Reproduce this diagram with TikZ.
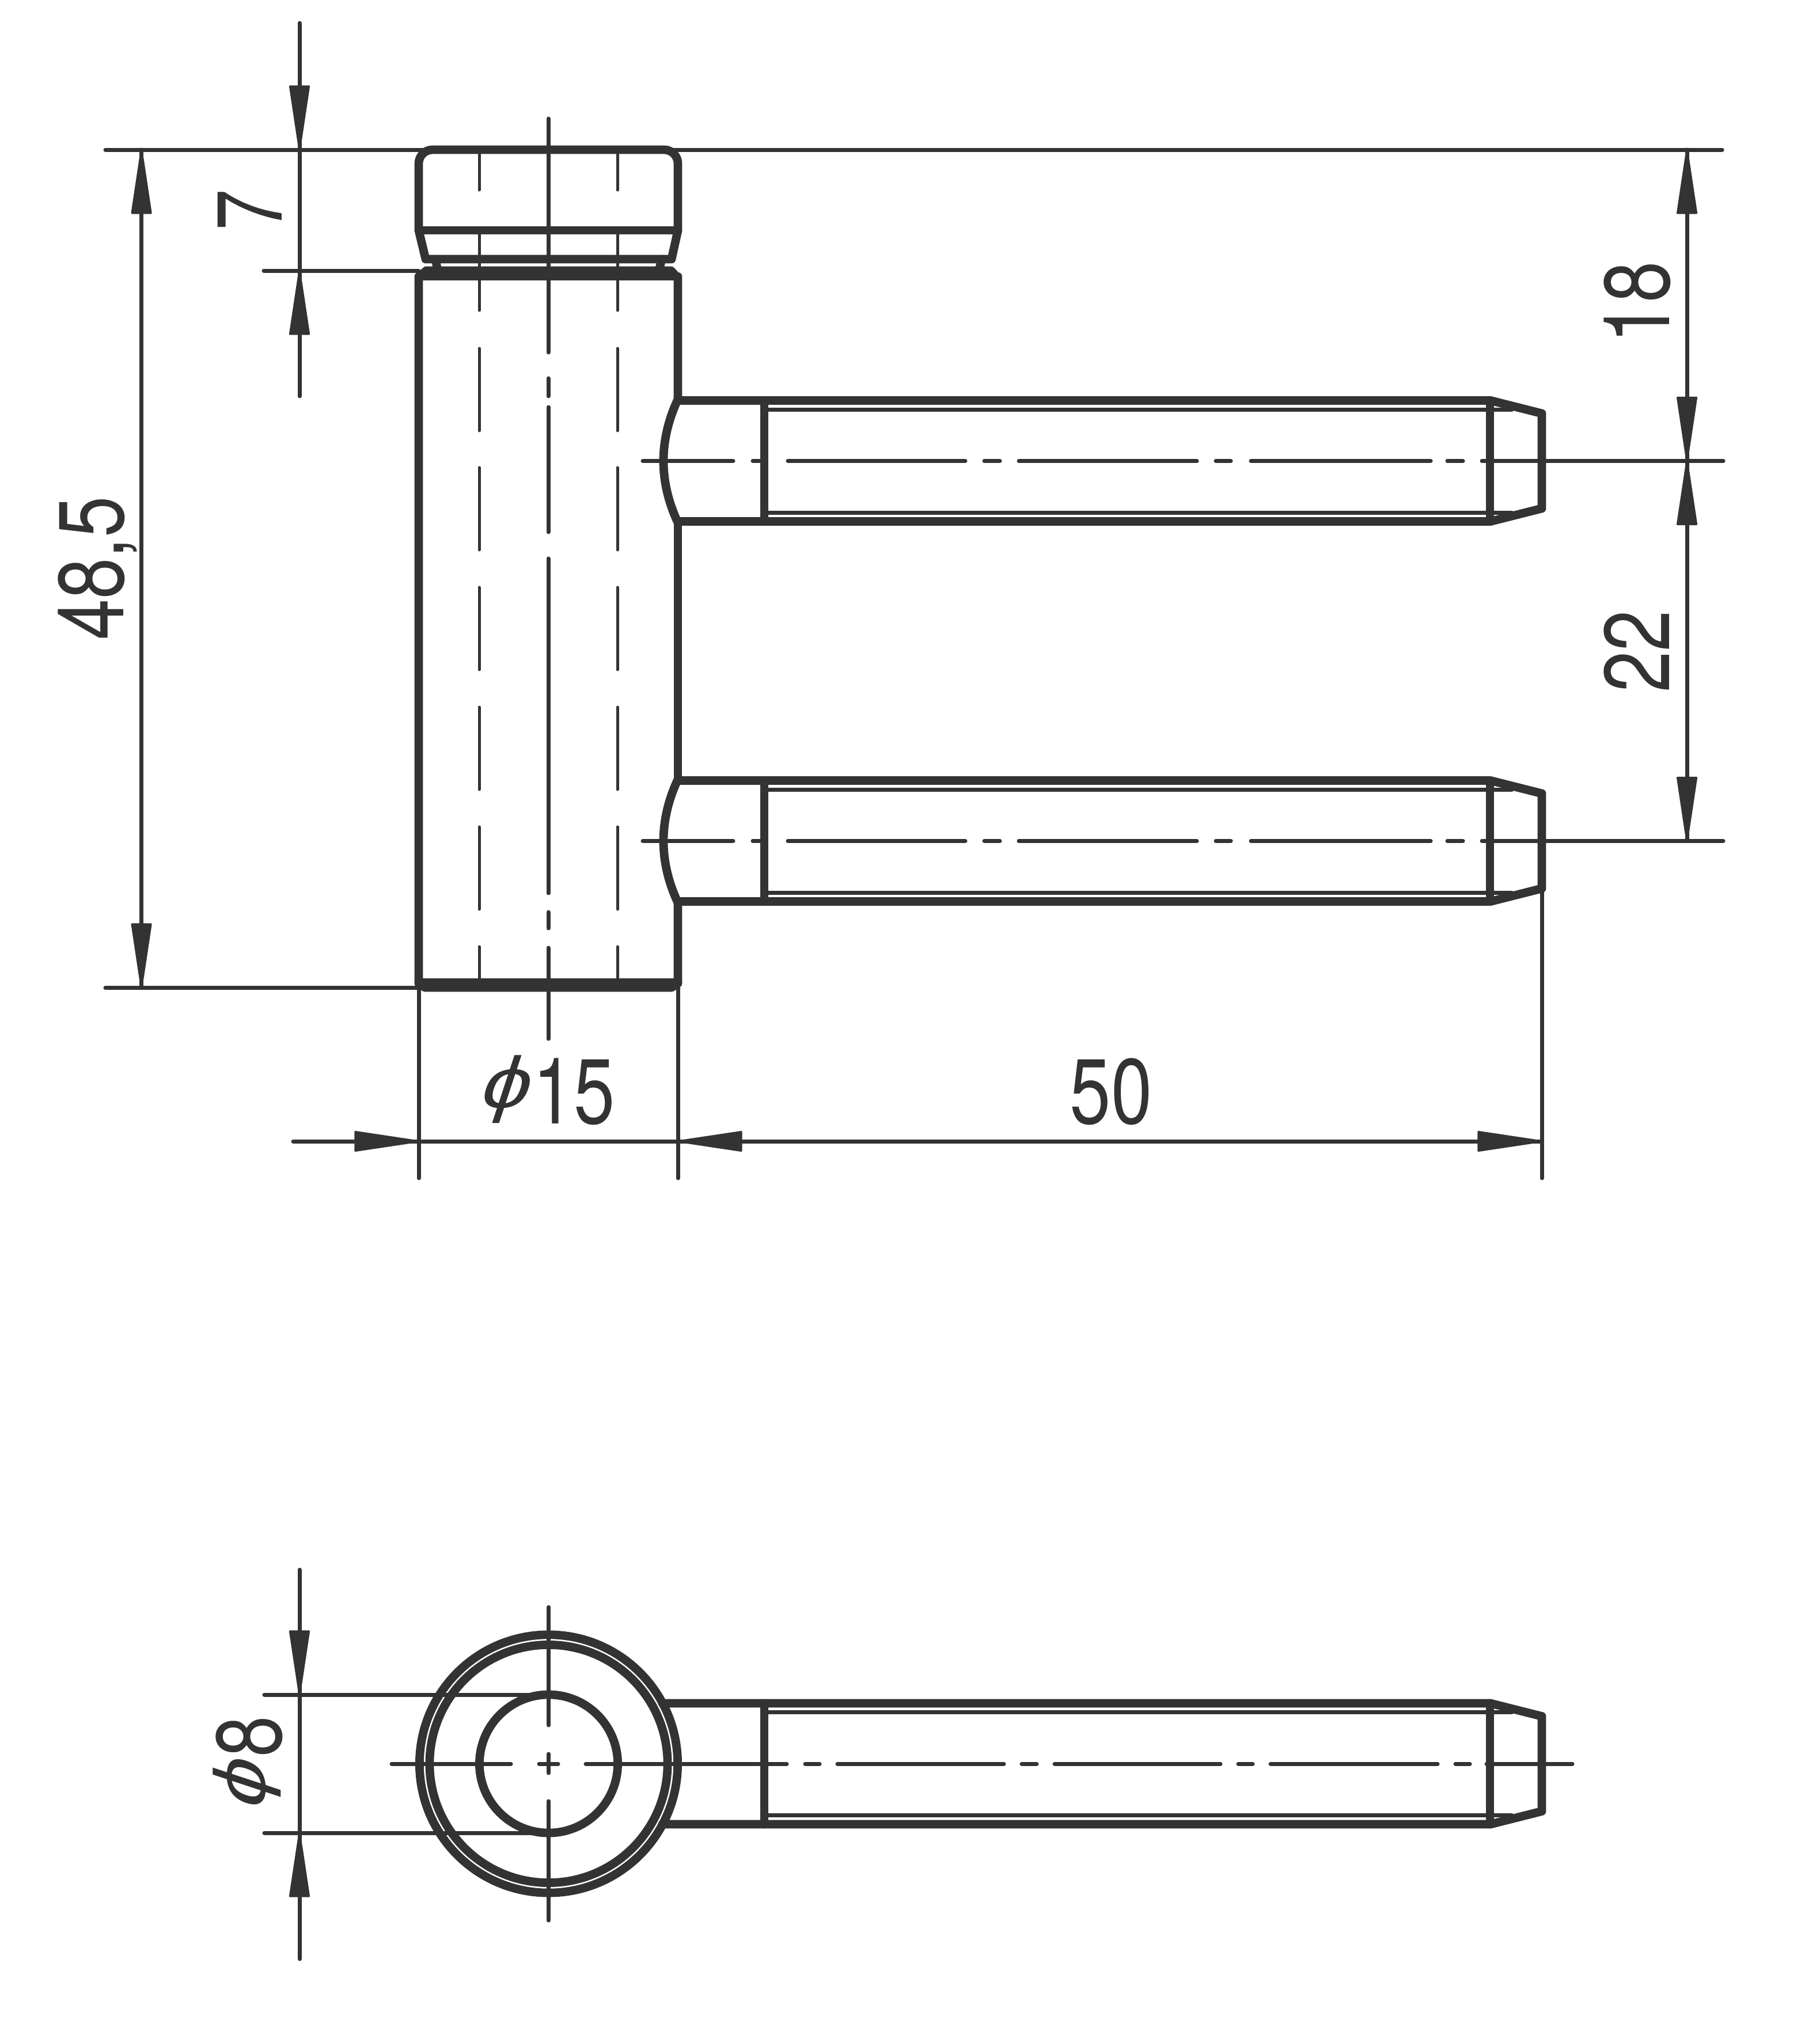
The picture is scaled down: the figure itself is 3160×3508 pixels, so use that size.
\documentclass[tikz,border=0pt]{standalone}
\usepackage{fontspec}
\newfontfamily\dimfont[FakeStretch=0.8]{TeX Gyre Heros}
\newfontfamily\phifont[FakeStretch=1.2,FakeSlant=0.33]{Liberation Sans}
\definecolor{ink}{HTML}{333333}
\tikzset{
  outline/.style={draw=ink,line width=4.2pt,line join=round,line cap=round},
  thinline/.style={draw=ink,line width=1.99pt,line cap=round},
  hiddenline/.style={draw=ink,line width=1.42pt,line cap=round},
  dimline/.style={draw=ink,line width=1.99pt,line cap=round},
  dimhd/.style={fill=ink,draw=ink,line width=0.9pt,line join=round},
  dimlabel/.style={text=ink,inner sep=0pt,font=\dimfont\fontsize{45.6pt}{46pt}\selectfont,anchor=base}
}
\newcommand\diam{{\phifont\fontsize{36pt}{36pt}\selectfont\raisebox{7.6pt}{ϕ}\hspace{3.5pt}}}
% tip x, tip y, rotation (0: tip points left, 180: right, 90: down, -90: up)
\newcommand\dimhead[3]{\filldraw[dimhd,shift={(#1,#2)},rotate=#3] (0,0) -- (110,-16.5) -- (110,16.5) -- cycle;}
\newcommand\pinbody[2]{%
  \draw[outline] (#2,#1-105) -- (2588,#1-105) -- (2677,#1-82.5) -- (2677,#1+82.5) -- (2588,#1+105) -- (#2,#1+105);
  \draw[outline] (1327,#1-105) -- (1327,#1+105);
  \draw[outline] (2587,#1-105) -- (2587,#1+105);
  \draw[thinline] (1327,#1-89.5) -- (2625,#1-89.5);
  \draw[thinline] (1327,#1+89.5) -- (2625,#1+89.5);
}
\newcommand\pinhead[1]{%
  \draw[outline] (1176,#1-105) .. controls (1144,#1-35) and (1144,#1+35) .. (1176,#1+105);
  \foreach \a/\b in {1116/1273,1307/1327,1368/1676,1709/1736,1769/2078,2111/2137,2172/2484,2513/2540,2573/2992}
    \draw[thinline] (\a,#1) -- (\b,#1);
}
\begin{document}
\begin{tikzpicture}[x=0.01cm,y=-0.01cm]
\useasboundingbox (0,0) rectangle (3160,3508);
% cap
\draw[outline] (727,400) [rounded corners=2.4mm] -- (727,260) -- (1177,260) [sharp corners] -- (1177,400) -- (1166,450) -- (739,450) -- cycle;
\draw[outline] (727,400) -- (1177,400);
\draw[outline] (756,450) -- (760,470);
\draw[outline] (1149,450) -- (1144,470);
% shaft
\draw[outline] (1177,695.5) -- (1177,483) -- (1165,470) -- (740,470) -- (727,482) -- (727,1708) -- (738,1715) -- (1166,1715) -- (1177,1708) -- (1177,1565.5);
\draw[outline] (1177,905.5) -- (1177,1355.5);
\draw[outline] (727,480) -- (1177,480);
\draw[outline] (727,1706) -- (1177,1706);
% hidden lines
\foreach \x in {832,1072}
  \foreach \a/\b in {260/330,397/539,605/748,812/955,1020/1163,1228/1371,1436/1579,1644/1712}
    \draw[hiddenline] (\x,\a) -- (\x,\b);
% vertical centre line
\foreach \a/\b in {206/612,657/688,707/924,970/1551,1584/1612,1646/1804}
  \draw[thinline] (952,\a) -- (952,\b);
% pins, side view
\pinbody{800.5}{1177}
\pinhead{800.5}
\pinbody{1460.5}{1177}
\pinhead{1460.5}
% dimension lines, side view
\draw[dimline] (183,260) -- (2990,260);
\draw[dimline] (458,470) -- (727,470);
\draw[dimline] (183,1715) -- (727,1715);
\draw[dimline] (245.6,260) -- (245.6,1715);
\dimhead{245.6}{260}{-90}
\dimhead{245.6}{1715}{90}
\draw[dimline] (520,40) -- (520,688);
\dimhead{520}{260}{90}
\dimhead{520}{470}{-90}
\draw[dimline] (2929,260) -- (2929,1460.5);
\dimhead{2929}{260}{-90}
\dimhead{2929}{800.5}{90}
\dimhead{2929}{800.5}{-90}
\dimhead{2929}{1460.5}{90}
\draw[dimline] (727,1715) -- (727,2046);
\draw[dimline] (1177,1708) -- (1177,2046);
\draw[dimline] (2677,1543) -- (2677,2046);
\draw[dimline] (509,1982) -- (2677,1982);
\dimhead{727}{1982}{180}
\dimhead{1177}{1982}{0}
\dimhead{2677}{1982}{180}
% labels, side view
\node[dimlabel,rotate=90] (lseven) at (489,365) {7};
\node[dimlabel,rotate=90] (lheight) at (214,987) {48,5};
\node[dimlabel,rotate=90] (leighteen) at (2898,525) {18};
\node[dimlabel,rotate=90] (ltwentytwo) at (2898,1131) {22};
\node[dimlabel] (lfifty) at (1929,1951) {50};
\node[dimlabel] (ldiam) at (948,1951) {\diam 15};
% end view
\draw[outline] (952.5,3063) circle[radius=2.24cm];
\draw[outline] (952.5,3063) circle[radius=2.065cm];
\draw[outline] (952.5,3063) circle[radius=1.2cm];
\pinbody{3063}{1150}
\foreach \a/\b in {680/887,936/969,1017/1366,1398/1423,1454/1743,1774/1800,1831/2119,2150/2175,2206/2496,2527/2552,2581/2730}
  \draw[thinline] (\a,3063) -- (\b,3063);
\foreach \a/\b in {2791/2996,3046/3079,3128/3335}
  \draw[thinline] (952.5,\a) -- (952.5,\b);
\draw[dimline] (459,2943) -- (930,2943);
\draw[dimline] (459,3183) -- (930,3183);
\draw[dimline] (520,2726) -- (520,3402);
\dimhead{520}{2943}{90}
\dimhead{520}{3183}{-90}
\node[dimlabel,rotate=90] (lpin) at (488,3064) {\diam 8};
\end{tikzpicture}
\end{document}
